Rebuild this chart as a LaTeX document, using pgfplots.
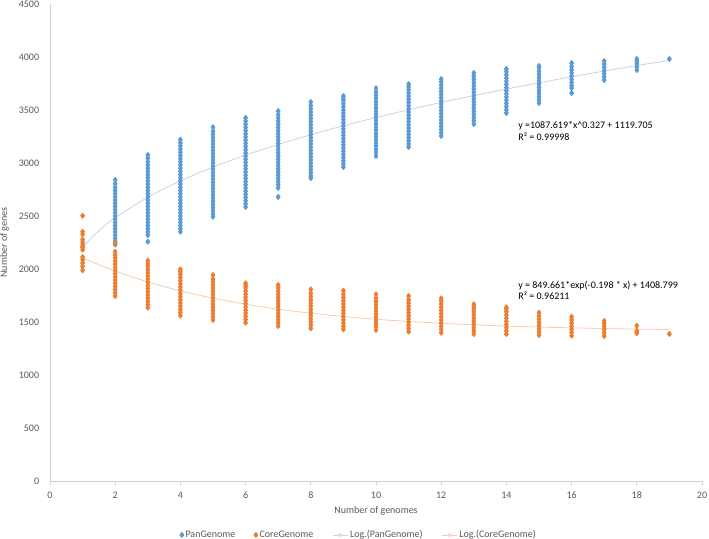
\documentclass[border=0pt]{standalone}
\usepackage{fontspec}
\setmainfont{Carlito}
\usepackage{pgfplots}
\pgfplotsset{compat=1.18}
\definecolor{panblue}{HTML}{5B9BD5}
\definecolor{coreorange}{HTML}{ED7D31}
\definecolor{panlight}{HTML}{BDD7EE}
\definecolor{corelight}{HTML}{F8CBAD}
\definecolor{axgray}{HTML}{D0D0D0}
\definecolor{txtgray}{HTML}{595959}
\begin{document}
\begin{tikzpicture}
\begin{axis}[
  at={(0,0)}, anchor=south west,
  scale only axis, width=652bp, height=477bp,
  xmin=0, xmax=20, ymin=0, ymax=4500,
  xtick={0,2,...,20}, ytick={0,500,...,4500},
  axis x line=bottom, axis y line=left,
  axis line style={axgray, line width=0.8bp, -},
  x axis line style={-}, y axis line style={-},
  xtick align=outside, major tick length=4bp,
  xtick style={axgray, line width=0.8bp},
  ytick style={draw=none},
  font=\fontsize{10bp}{12bp}\selectfont,
  tick label style={txtgray, font=\fontsize{10bp}{12bp}\selectfont},
  /pgf/number format/assume math mode=true,
  /pgf/number format/1000 sep={},
  yticklabel style={xshift=-5.4bp},
  xticklabel style={yshift=-3.5bp},
  xlabel={Number of genomes}, ylabel={Number of genes},
  xlabel style={txtgray, at={(axis description cs:0.5,-0.062)}, anchor=center},
  ylabel style={txtgray, at={(axis description cs:-0.0698,0.5)}, anchor=center, rotate=0},
  legend columns=4,
  legend style={at={(0.474,-0.113)}, anchor=center, draw=none, fill=none,
    font=\fontsize{10bp}{12bp}\selectfont, text=txtgray,
    /tikz/every even column/.append style={column sep=17bp}},
  clip=false,
  dots/.style={only marks, mark=diamond*, mark size=2.2bp,
    mark options={line width=1.4bp, line join=round}},
]
\addplot[dots, color=panblue] coordinates {
(1,2207)
(2,2230)(2,2260)(2,2290)(2,2320)(2,2350)(2,2380)(2,2410)(2,2440)(2,2470)(2,2500)(2,2530)(2,2560)(2,2590)(2,2620)(2,2650)(2,2680)(2,2710)(2,2740)(2,2770)(2,2805)(2,2840)
(3,2258)(3,2320)(3,2350)(3,2380)(3,2410)(3,2440)(3,2470)(3,2500)(3,2530)(3,2560)(3,2590)(3,2620)(3,2650)(3,2680)(3,2710)(3,2740)(3,2770)(3,2800)(3,2830)(3,2860)(3,2890)(3,2920)(3,2950)(3,2980)(3,3010)(3,3045)(3,3075)
(4,2352)(4,2380)(4,2410)(4,2440)(4,2470)(4,2500)(4,2530)(4,2560)(4,2590)(4,2620)(4,2650)(4,2680)(4,2710)(4,2740)(4,2770)(4,2800)(4,2830)(4,2860)(4,2890)(4,2920)(4,2950)(4,2980)(4,3010)(4,3040)(4,3070)(4,3100)(4,3130)(4,3160)(4,3190)(4,3220)
(5,2494)(5,2520)(5,2550)(5,2580)(5,2610)(5,2640)(5,2670)(5,2700)(5,2730)(5,2760)(5,2790)(5,2820)(5,2850)(5,2880)(5,2910)(5,2940)(5,2970)(5,3000)(5,3030)(5,3060)(5,3090)(5,3120)(5,3150)(5,3180)(5,3210)(5,3240)(5,3270)(5,3300)(5,3338)
(6,2585)(6,2615)(6,2645)(6,2675)(6,2705)(6,2735)(6,2765)(6,2795)(6,2825)(6,2855)(6,2885)(6,2915)(6,2945)(6,2975)(6,3005)(6,3035)(6,3065)(6,3095)(6,3125)(6,3155)(6,3185)(6,3215)(6,3245)(6,3275)(6,3305)(6,3335)(6,3365)(6,3395)(6,3425)
(7,2680)(7,2765)(7,2795)(7,2825)(7,2855)(7,2885)(7,2915)(7,2945)(7,2975)(7,3005)(7,3035)(7,3065)(7,3095)(7,3125)(7,3155)(7,3185)(7,3215)(7,3245)(7,3275)(7,3305)(7,3335)(7,3365)(7,3395)(7,3425)(7,3455)(7,3490)
(8,2858)(8,2880)(8,2910)(8,2940)(8,2970)(8,3000)(8,3030)(8,3060)(8,3090)(8,3120)(8,3150)(8,3180)(8,3210)(8,3240)(8,3270)(8,3300)(8,3330)(8,3360)(8,3390)(8,3420)(8,3450)(8,3480)(8,3510)(8,3540)(8,3575)
(9,2962)(9,2990)(9,3020)(9,3050)(9,3080)(9,3110)(9,3140)(9,3170)(9,3200)(9,3230)(9,3260)(9,3290)(9,3320)(9,3350)(9,3380)(9,3410)(9,3440)(9,3470)(9,3500)(9,3530)(9,3560)(9,3590)(9,3610)(9,3632)
(10,3066)(10,3100)(10,3130)(10,3160)(10,3190)(10,3220)(10,3250)(10,3280)(10,3310)(10,3340)(10,3370)(10,3400)(10,3430)(10,3460)(10,3490)(10,3520)(10,3550)(10,3580)(10,3610)(10,3640)(10,3670)(10,3705)
(11,3151)(11,3180)(11,3210)(11,3240)(11,3270)(11,3300)(11,3330)(11,3360)(11,3390)(11,3420)(11,3450)(11,3480)(11,3510)(11,3540)(11,3570)(11,3600)(11,3630)(11,3660)(11,3690)(11,3720)(11,3745)
(12,3255)(12,3285)(12,3315)(12,3345)(12,3375)(12,3405)(12,3435)(12,3465)(12,3495)(12,3525)(12,3555)(12,3585)(12,3615)(12,3645)(12,3675)(12,3705)(12,3735)(12,3765)(12,3792)
(13,3368)(13,3398)(13,3428)(13,3458)(13,3488)(13,3518)(13,3548)(13,3578)(13,3608)(13,3638)(13,3668)(13,3698)(13,3728)(13,3758)(13,3788)(13,3818)(13,3849)
(14,3472)(14,3502)(14,3532)(14,3562)(14,3592)(14,3622)(14,3652)(14,3682)(14,3712)(14,3742)(14,3772)(14,3802)(14,3832)(14,3862)(14,3887)
(15,3566)(15,3596)(15,3626)(15,3656)(15,3686)(15,3716)(15,3746)(15,3776)(15,3806)(15,3836)(15,3866)(15,3896)(15,3915)
(16,3660)(16,3707)(16,3730)(16,3760)(16,3790)(16,3820)(16,3850)(16,3880)(16,3910)(16,3943)
(17,3783)(17,3813)(17,3843)(17,3873)(17,3903)(17,3933)(17,3962)
(18,3877)(18,3905)(18,3935)(18,3960)(18,3981)
(19,3981)
};
\addlegendentry{PanGenome}
\addplot[dots, color=coreorange] coordinates {
(1,2503)(1,2352)(1,2327)(1,2277)(1,2252)(1,2230)(1,2204)(1,2182)(1,2113)(1,2088)(1,2057)(1,2025)(1,1987)
(2,1745)(2,1775)(2,1805)(2,1835)(2,1865)(2,1895)(2,1925)(2,1955)(2,1985)(2,2015)(2,2045)(2,2075)(2,2105)(2,2132)(2,2163)(2,2242)
(3,1635)(3,1665)(3,1695)(3,1725)(3,1755)(3,1785)(3,1815)(3,1845)(3,1875)(3,1905)(3,1935)(3,1965)(3,1995)(3,2025)(3,2050)(3,2078)
(4,1560)(4,1590)(4,1620)(4,1650)(4,1680)(4,1710)(4,1740)(4,1770)(4,1800)(4,1830)(4,1860)(4,1890)(4,1920)(4,1950)(4,1975)(4,1997)
(5,1519)(5,1549)(5,1579)(5,1609)(5,1639)(5,1669)(5,1699)(5,1729)(5,1759)(5,1789)(5,1819)(5,1849)(5,1879)(5,1905)(5,1943)
(6,1493)(6,1523)(6,1553)(6,1583)(6,1613)(6,1643)(6,1673)(6,1703)(6,1733)(6,1763)(6,1793)(6,1823)(6,1845)(6,1865)
(7,1462)(7,1492)(7,1522)(7,1552)(7,1582)(7,1612)(7,1642)(7,1672)(7,1702)(7,1732)(7,1762)(7,1792)(7,1822)(7,1849)
(8,1440)(8,1470)(8,1500)(8,1530)(8,1560)(8,1590)(8,1620)(8,1650)(8,1680)(8,1710)(8,1740)(8,1770)(8,1808)
(9,1431)(9,1461)(9,1491)(9,1521)(9,1551)(9,1581)(9,1611)(9,1641)(9,1671)(9,1701)(9,1731)(9,1761)(9,1795)
(10,1425)(10,1455)(10,1485)(10,1515)(10,1545)(10,1575)(10,1605)(10,1635)(10,1665)(10,1695)(10,1725)(10,1761)
(11,1409)(11,1439)(11,1469)(11,1499)(11,1529)(11,1559)(11,1589)(11,1619)(11,1649)(11,1679)(11,1709)(11,1745)
(12,1399)(12,1429)(12,1459)(12,1489)(12,1519)(12,1549)(12,1579)(12,1609)(12,1639)(12,1669)(12,1699)(12,1723)
(13,1387)(13,1417)(13,1447)(13,1477)(13,1507)(13,1537)(13,1567)(13,1597)(13,1627)(13,1647)(13,1667)
(14,1387)(14,1417)(14,1447)(14,1477)(14,1507)(14,1537)(14,1567)(14,1597)(14,1620)(14,1638)
(15,1377)(15,1407)(15,1437)(15,1467)(15,1497)(15,1527)(15,1557)(15,1588)
(16,1371)(16,1401)(16,1431)(16,1461)(16,1491)(16,1521)(16,1550)
(17,1368)(17,1398)(17,1428)(17,1458)(17,1485)(17,1509)
(18,1395)(18,1405)(18,1418)(18,1465)
(19,1387)
};
\addlegendentry{CoreGenome}
\addplot[smooth, no marks, color=panlight, line width=0.8bp,
  legend image code/.code={\draw[panlight, line width=0.8bp] (0bp,0bp) -- (15bp,0bp); \fill[panlight!70!white] (7.5bp,0bp) circle (1.8bp);}] coordinates {
(1,2207)(1.5,2362)(2,2484)(3,2677)(4,2831)(5,2961)(6,3074)(7,3175)(8,3267)(9,3351)(10,3429)(11,3502)(12,3571)(13,3636)(14,3698)(15,3756)(16,3813)(17,3867)(18,3919)(19,3968)
};
\addlegendentry{Log.(PanGenome)}
\addplot[smooth, no marks, color=corelight, line width=0.8bp,
  legend image code/.code={\draw[corelight, line width=0.8bp] (0bp,0bp) -- (15bp,0bp); \fill[corelight!70!white] (7.5bp,0bp) circle (1.8bp);}] coordinates {
(1,2106)(1.5,2040)(2,1981)(3,1878)(4,1794)(5,1725)(6,1668)(7,1621)(8,1583)(9,1552)(10,1526)(11,1505)(12,1488)(13,1474)(14,1462)(15,1452)(16,1445)(17,1438)(18,1433)(19,1429)
};
\addlegendentry{Log.(CoreGenome)}
\node[anchor=west, inner sep=0pt, align=left, font=\fontsize{10bp}{11.5bp}\selectfont] at (axis cs:14.36,3300) {y =1087.619*x\^{}0.327 + 1119.705\\R² = 0.99998};
\node[anchor=west, inner sep=0pt, align=left, font=\fontsize{10bp}{11.5bp}\selectfont] at (axis cs:14.36,1800) {y = 849.661*exp(-0.198 * x) + 1408.799\\R² = 0.96211};
\end{axis}
\pgfresetboundingbox
\path (-50bp,-58bp) rectangle (659bp,481bp);
\end{tikzpicture}
\end{document}
